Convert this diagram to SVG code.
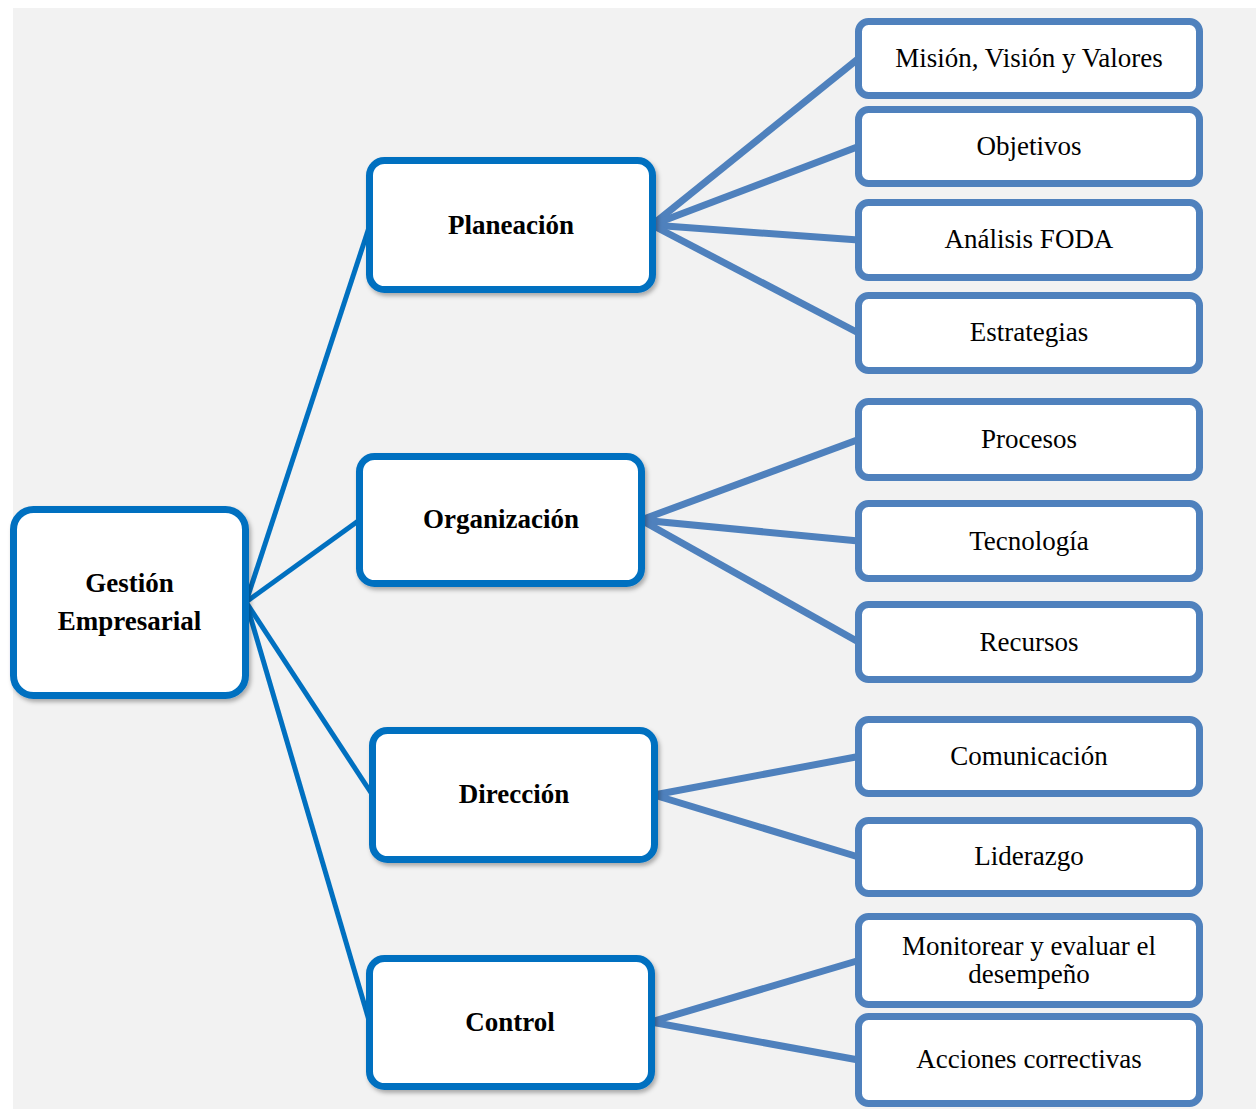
<svg xmlns="http://www.w3.org/2000/svg" width="1256" height="1109" viewBox="0 0 1256 1109">
<defs>
<filter id="sh" x="-10%" y="-10%" width="125%" height="130%">
<feDropShadow dx="2" dy="3" stdDeviation="2" flood-color="#000" flood-opacity="0.3"/>
</filter>
<style>
.main{fill:#fff;stroke:#0070c0;stroke-width:7;filter:url(#sh)}
.leaf{fill:#fff;stroke:#4f81bd;stroke-width:7}
.c1{stroke:#0070c0;stroke-width:5;fill:none}
.c2{stroke:#4f81bd;stroke-width:7;fill:none}
.tb{font-family:"Liberation Serif","Times New Roman",serif;font-size:27px;font-weight:bold;fill:#000;text-anchor:middle}
.tr{font-family:"Liberation Serif","Times New Roman",serif;font-size:27px;fill:#000;text-anchor:middle}
</style>
</defs>
<rect x="13" y="8" width="1243" height="1101" fill="#f2f2f2"/>
<g id="connectors">
<line class="c1" x1="246" y1="602" x2="369.5" y2="226"/>
<line class="c1" x1="246" y1="602" x2="359.5" y2="520"/>
<line class="c1" x1="246" y1="602" x2="372.5" y2="795"/>
<line class="c1" x1="246" y1="602" x2="369.5" y2="1022"/>
<line class="c2" x1="652" y1="225" x2="858.5" y2="58.5"/>
<line class="c2" x1="652" y1="225" x2="858.5" y2="146.5"/>
<line class="c2" x1="652" y1="225" x2="858.5" y2="240"/>
<line class="c2" x1="652" y1="225" x2="858.5" y2="333"/>
<line class="c2" x1="641" y1="520" x2="858.5" y2="439.5"/>
<line class="c2" x1="641" y1="520" x2="858.5" y2="541"/>
<line class="c2" x1="641" y1="520" x2="858.5" y2="642"/>
<line class="c2" x1="654" y1="795" x2="858.5" y2="756.5"/>
<line class="c2" x1="654" y1="795" x2="858.5" y2="857"/>
<line class="c2" x1="651" y1="1022" x2="858.5" y2="960.5"/>
<line class="c2" x1="651" y1="1022" x2="858.5" y2="1060"/>
</g>
<g id="gestion">
<rect class="main" x="13.5" y="509.5" width="232" height="186" rx="20"/>
<text class="tb" x="129.5" y="592">Gestión</text>
<text class="tb" x="129.5" y="630">Empresarial</text>
</g>
<g id="planeacion">
<rect class="main" x="369.5" y="160.5" width="283" height="129" rx="15"/>
<text class="tb" x="511" y="234">Planeación</text>
</g>
<g id="organizacion">
<rect class="main" x="359.5" y="456.5" width="282" height="127" rx="15"/>
<text class="tb" x="501" y="528">Organización</text>
</g>
<g id="direccion">
<rect class="main" x="372.5" y="730.5" width="282" height="129" rx="15"/>
<text class="tb" x="514" y="803">Dirección</text>
</g>
<g id="control">
<rect class="main" x="369.5" y="958.5" width="282" height="128" rx="15"/>
<text class="tb" x="510" y="1031">Control</text>
</g>
<g id="mision">
<rect class="leaf" x="858.5" y="21.5" width="341" height="74" rx="10"/>
<text class="tr" x="1029" y="67">Misión, Visión y Valores</text>
</g>
<g id="objetivos">
<rect class="leaf" x="858.5" y="109.5" width="341" height="74" rx="10"/>
<text class="tr" x="1029" y="155">Objetivos</text>
</g>
<g id="foda">
<rect class="leaf" x="858.5" y="202.5" width="341" height="75" rx="10"/>
<text class="tr" x="1029" y="248">Análisis FODA</text>
</g>
<g id="estrategias">
<rect class="leaf" x="858.5" y="295.5" width="341" height="75" rx="10"/>
<text class="tr" x="1029" y="341">Estrategias</text>
</g>
<g id="procesos">
<rect class="leaf" x="858.5" y="401.5" width="341" height="76" rx="10"/>
<text class="tr" x="1029" y="448">Procesos</text>
</g>
<g id="tecnologia">
<rect class="leaf" x="858.5" y="503.5" width="341" height="75" rx="10"/>
<text class="tr" x="1029" y="550">Tecnología</text>
</g>
<g id="recursos">
<rect class="leaf" x="858.5" y="604.5" width="341" height="75" rx="10"/>
<text class="tr" x="1029" y="651">Recursos</text>
</g>
<g id="comunicacion">
<rect class="leaf" x="858.5" y="719.5" width="341" height="74" rx="10"/>
<text class="tr" x="1029" y="765">Comunicación</text>
</g>
<g id="liderazgo">
<rect class="leaf" x="858.5" y="820.5" width="341" height="73" rx="10"/>
<text class="tr" x="1029" y="865">Liderazgo</text>
</g>
<g id="monitorear">
<rect class="leaf" x="858.5" y="916.5" width="341" height="88" rx="10"/>
<text class="tr" x="1029" y="955">Monitorear y evaluar el</text>
<text class="tr" x="1029" y="983">desempeño</text>
</g>
<g id="acciones">
<rect class="leaf" x="858.5" y="1016.5" width="341" height="87" rx="10"/>
<text class="tr" x="1029" y="1068">Acciones correctivas</text>
</g>
</svg>
